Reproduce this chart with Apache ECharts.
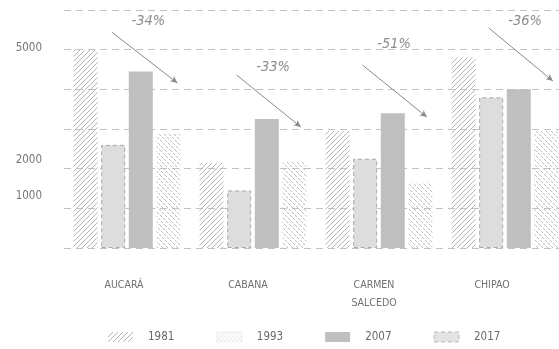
<!DOCTYPE html>
<html>
<head>
<meta charset="utf-8">
<script src="https://cdn.jsdelivr.net/npm/echarts@6/dist/echarts.min.js"></script>
<style>
  html, body { margin: 0; padding: 0; background: #fff; overflow: hidden; }
  /* the plot runs past the right edge of the page, so the last bar is cut off */
  #chart { width: 568px; height: 349px; }
</style>
</head>
<body>
<div id="chart"></div>
<script>
// Population by district and census year
const categories = ['AUCARÁ', 'CABANA', 'CARMEN\nSALCEDO', 'CHIPAO'];
const years = ['1981', '1993', '2007', '2017'];
const pop1981 = [5000, 2150, 2950, 4800];
const pop1993 = [2600, 1450, 2250, 3800];
const pop2007 = [4450, 3250, 3400, 4000];
const pop2017 = [2900, 2180, 1650, 2950];
const changeLabels = ['-34%', '-33%', '-51%', '-36%'];
const yTickLabels = [1000, 2000, 5000];

// Annotation placement in data space (x: category units from the left edge, y: axis value)
const arrowFrom = [[0.38, 5440], [1.37, 4360], [2.37, 4610], [3.37, 5550]];
const arrowTo   = [[0.90, 4160], [1.88, 3050], [2.88, 3300], [3.88, 4210]];
const noteAt    = [[0.67, 5720], [1.66, 4560], [2.62, 5140], [3.66, 5720]];
// small per-label nudges (px to the left / px upward)
const xLabelNudge = [3, 5, 5, 13];
const yLabelNudge = { 1000: 12, 2000: 9, 5000: 2 };

const FONT = "'DejaVu Sans Condensed', 'Liberation Sans Narrow', 'Roboto', sans-serif";

// diagonal hatch tile; dir > 0 draws "/", otherwise "\"
function hatchTile(dir, color, step, dash, width) {
  const size = step * 5;
  const c = document.createElement('canvas');
  c.width = size; c.height = size;
  const g = c.getContext('2d');
  g.strokeStyle = color;
  g.lineWidth = width;
  if (dash) g.setLineDash(dash);
  g.beginPath();
  for (let k = -size; k <= 2 * size; k += step) {
    if (dir > 0) { g.moveTo(k, 0); g.lineTo(k - size, size); }
    else { g.moveTo(k, 0); g.lineTo(k + size, size); }
  }
  g.stroke();
  return c;
}
function dotTile(color) {
  const c = document.createElement('canvas');
  c.width = 4; c.height = 4;
  const g = c.getContext('2d');
  g.fillStyle = '#fbfbfb';
  g.fillRect(0, 0, 4, 4);
  g.fillStyle = color;
  g.fillRect(0, 0, 1, 1);
  g.fillRect(2, 2, 1, 1);
  return c;
}

const slash = { image: hatchTile(1, '#b6b6b6', 5, null, 1), repeat: 'repeat' };
const backslash = { image: hatchTile(-1, '#bcbcbc', 5, [3, 1.25], 1), repeat: 'repeat' };
const dots = { image: dotTile('#dedede'), repeat: 'repeat' };

const styles = [
  { color: slash },
  { color: '#dddddd', borderColor: '#a9a9a9', borderWidth: 1, borderType: [4, 3] },
  { color: '#bfbfbf' },
  { color: backslash }
];
const values = [pop1981, pop1993, pop2007, pop2017];

const barSeries = years.map((y, i) => ({
  name: y,
  type: 'bar',
  barWidth: 24,
  barGap: '15%',
  itemStyle: styles[i],
  emphasis: { disabled: true },
  data: values[i]
}));

const yRich = {};
Object.keys(yLabelNudge).forEach(k => {
  yRich['y' + k] = { padding: [0, 0, 2 * yLabelNudge[k], 0] };
});
const xRich = {};
xLabelNudge.forEach((n, i) => {
  xRich['x' + i] = { padding: [0, 2 * n, 0, 0], fontFamily: FONT, fontSize: 10.5, color: '#707070', lineHeight: 18 };
});

const chart = echarts.init(document.getElementById('chart'), null, { renderer: 'canvas' });
chart.setOption({
  animation: false,
  backgroundColor: '#ffffff',
  grid: { left: 64, top: 10, width: 504, height: 238 },
  legend: {
    left: 103,
    top: 326,
    icon: 'rect',
    itemWidth: 25,
    itemHeight: 10,
    itemGap: 42,
    selectedMode: false,
    textStyle: { fontFamily: FONT, fontSize: 11.5, color: '#6a6a6a', padding: [0, 0, 0, 10] },
    data: [
      { name: '1981', itemStyle: { color: slash } },
      { name: '1993', itemStyle: { color: dots, borderColor: '#e2e2e2', borderWidth: 1, borderType: 'dotted' } },
      { name: '2007' },
      { name: '2017', itemStyle: { color: '#e3e3e3', borderColor: '#b8b8b8', borderWidth: 1, borderType: [4, 3] } }
    ]
  },
  xAxis: [
    {
      type: 'category',
      data: categories,
      axisLine: { show: false },
      axisTick: { show: false },
      axisLabel: {
        margin: 28,
        interval: 0,
        formatter: (v, i) => v.split('\n').map(s => `{x${i}|${s}}`).join('\n'),
        rich: xRich
      }
    },
    { type: 'value', min: 0, max: 4, show: false }
  ],
  yAxis: {
    type: 'value',
    min: 0,
    max: 6000,
    interval: 1000,
    axisLine: { show: false },
    axisTick: { show: false },
    axisLabel: {
      margin: 22,
      fontFamily: FONT,
      fontSize: 11.5,
      color: '#767676',
      formatter: v => yTickLabels.includes(v) ? `{y${v}|${v}}` : '',
      rich: yRich
    },
    splitLine: { lineStyle: { color: '#c2c2c2', type: [7, 5], width: 1 } }
  },
  series: barSeries.concat([{
    name: 'change',
    type: 'scatter',
    xAxisIndex: 1,
    symbolSize: 0,
    silent: true,
    data: noteAt.map((p, i) => ({ value: p, name: changeLabels[i] })),
    label: {
      show: true,
      position: 'inside',
      formatter: p => p.name,
      fontFamily: FONT,
      fontSize: 14.5,
      fontStyle: 'italic',
      color: '#707070'
    },
    markLine: {
      silent: true,
      symbol: ['none', 'arrow'],
      symbolSize: [5, 7],
      label: { show: false },
      lineStyle: { color: '#8a8a8a', width: 1, type: 'solid' },
      data: arrowFrom.map((a, i) => [{ coord: a }, { coord: arrowTo[i] }])
    }
  }])
});
</script>
</body>
</html>
